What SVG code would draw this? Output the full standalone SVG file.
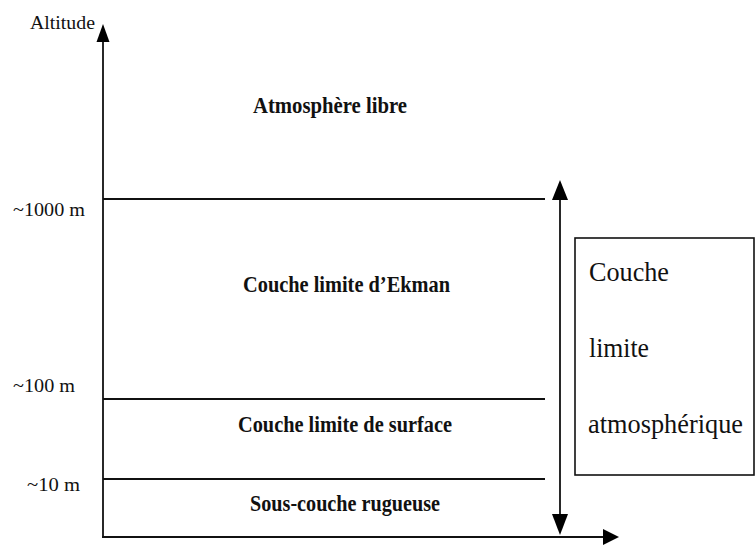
<svg xmlns="http://www.w3.org/2000/svg" width="755" height="545" viewBox="0 0 755 545">
<style>
.ln{stroke:#111;stroke-width:1.8;fill:none}
.ah{fill:#000}
.lbl{font-family:"Liberation Serif",serif;font-size:18px;fill:#111}
.mid{font-family:"Liberation Serif",serif;font-size:24px;font-weight:bold;fill:#111;text-anchor:middle}
.box{font-family:"Liberation Serif",serif;font-size:27px;fill:#111}
</style>
<rect width="755" height="545" fill="#fff"/>
<g id="connectors">
<line class="ln" x1="103" y1="40" x2="103" y2="537"/>
<polygon class="ah" points="103,24 96.5,42 109.5,42"/>
<line class="ln" x1="102" y1="537" x2="604" y2="537"/>
<polygon class="ah" points="619,537 603,529 603,545"/>
<line class="ln" x1="560" y1="198" x2="560" y2="516"/>
<polygon class="ah" points="560,180 552,200 568,200"/>
<polygon class="ah" points="560,535 552,514 568,514"/>
<line class="ln" x1="103" y1="199" x2="545" y2="199"/>
<line class="ln" x1="103" y1="399" x2="545" y2="399"/>
<line class="ln" x1="103" y1="479" x2="545" y2="479"/>
</g>
<g id="axis-label">
<text class="lbl" x="30" y="29" textLength="65" lengthAdjust="spacingAndGlyphs">Altitude</text>
</g>
<g id="tick-1000">
<text class="lbl" x="13" y="216" textLength="72" lengthAdjust="spacingAndGlyphs">~1000 m</text>
</g>
<g id="tick-100">
<text class="lbl" x="13" y="392" textLength="62" lengthAdjust="spacingAndGlyphs">~100 m</text>
</g>
<g id="tick-10">
<text class="lbl" x="27" y="491" textLength="53" lengthAdjust="spacingAndGlyphs">~10 m</text>
</g>
<g id="atmosphere-libre">
<text class="mid" x="330" y="113" textLength="154" lengthAdjust="spacingAndGlyphs">Atmosphère libre</text>
</g>
<g id="ekman">
<text class="mid" x="346.5" y="292" textLength="207" lengthAdjust="spacingAndGlyphs">Couche limite d’Ekman</text>
</g>
<g id="surface">
<text class="mid" x="345" y="432" textLength="214" lengthAdjust="spacingAndGlyphs">Couche limite de surface</text>
</g>
<g id="rugueuse">
<text class="mid" x="345" y="511" textLength="190" lengthAdjust="spacingAndGlyphs">Sous-couche rugueuse</text>
</g>
<g id="cla-box">
<rect x="575" y="238" width="179" height="237" fill="#fff" stroke="#111" stroke-width="1.6"/>
<text class="box" x="589" y="281" textLength="80" lengthAdjust="spacingAndGlyphs">Couche</text>
<text class="box" x="589" y="357" textLength="60" lengthAdjust="spacingAndGlyphs">limite</text>
<text class="box" x="588" y="433" textLength="155" lengthAdjust="spacingAndGlyphs">atmosphérique</text>
</g>
</svg>
